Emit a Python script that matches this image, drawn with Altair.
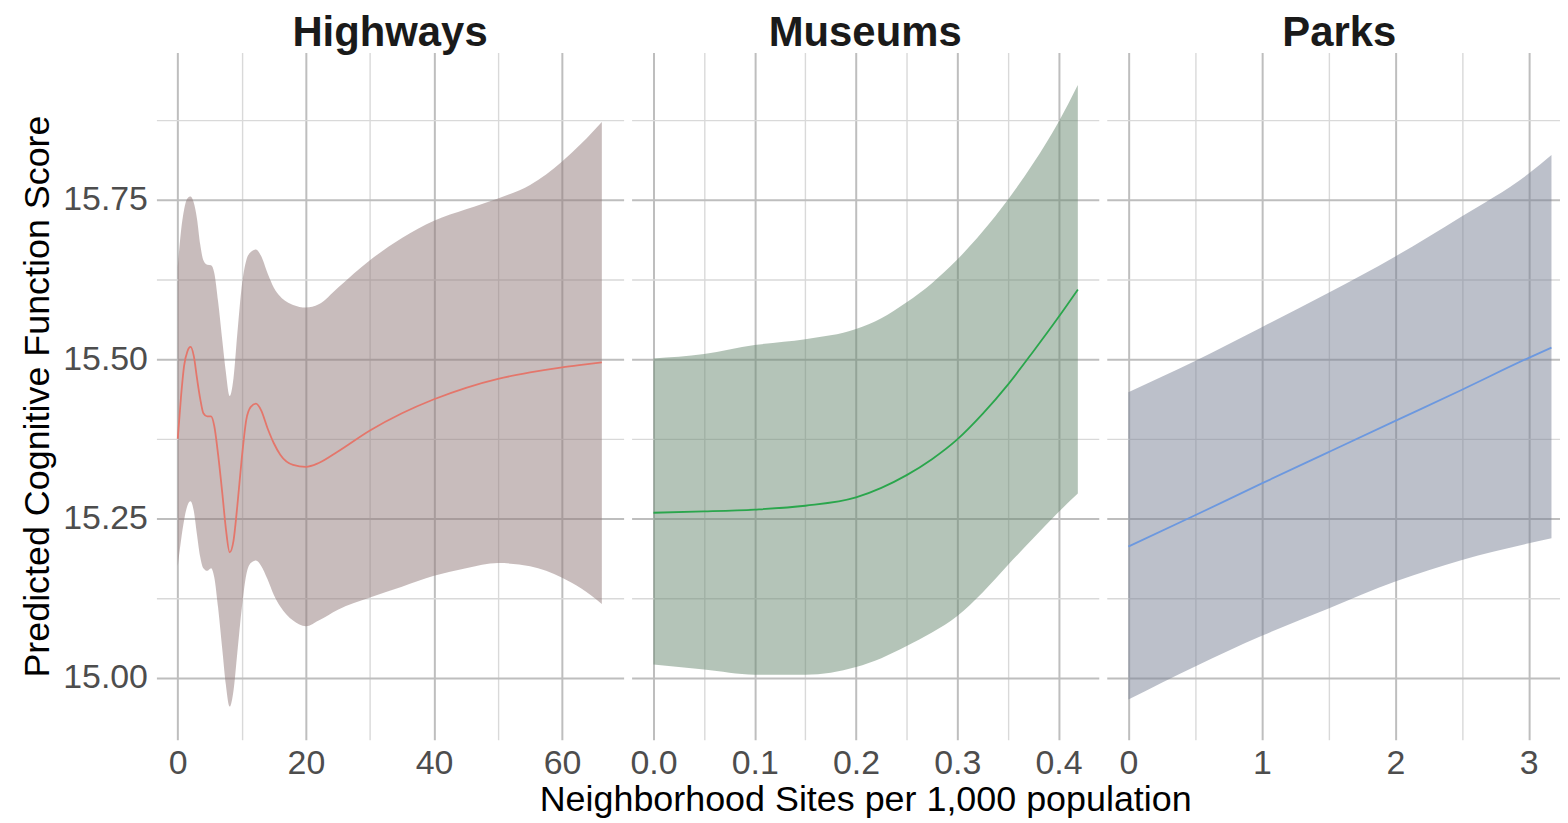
import altair as alt
import pandas as pd

# ---------------- data ----------------
hw_x = [0, 0.5, 1, 1.5, 2, 2.5, 3, 3.5, 4, 4.6, 5.2, 5.7, 6.3, 7, 7.5, 8.1, 8.7, 9.3,
        10, 10.7, 11.4, 12.2, 13, 14, 15, 16, 18, 20, 22, 25, 30, 35, 40, 45, 50, 55,
        60, 63, 66.2]
hw_fit = [15.375, 15.44, 15.49, 15.512, 15.519, 15.505, 15.47, 15.438, 15.415, 15.41,
          15.41, 15.395, 15.35, 15.285, 15.235, 15.197, 15.215, 15.27, 15.345, 15.405,
          15.425, 15.43, 15.42, 15.392, 15.368, 15.35, 15.334, 15.331, 15.337, 15.355,
          15.388, 15.415, 15.437, 15.455, 15.469, 15.479, 15.487, 15.491, 15.495]
hw_hi = [15.645, 15.70, 15.735, 15.752, 15.755, 15.745, 15.72, 15.68, 15.655, 15.648,
         15.647, 15.635, 15.59, 15.525, 15.48, 15.442, 15.47, 15.54, 15.615, 15.655,
         15.668, 15.672, 15.662, 15.635, 15.612, 15.598, 15.585, 15.581, 15.586, 15.612,
         15.655, 15.69, 15.717, 15.735, 15.752, 15.773, 15.81, 15.838, 15.872]
hw_lo = [15.175, 15.215, 15.248, 15.27, 15.277, 15.262, 15.225, 15.19, 15.172, 15.168,
         15.172, 15.158, 15.11, 15.04, 14.99, 14.955, 14.98, 15.04, 15.11, 15.162,
         15.18, 15.184, 15.176, 15.155, 15.13, 15.112, 15.09, 15.081, 15.09, 15.107,
         15.126, 15.143, 15.16, 15.172, 15.18, 15.175, 15.157, 15.14, 15.116]

mu_x = [0, 0.05, 0.1, 0.15, 0.2, 0.225, 0.25, 0.275, 0.3, 0.325, 0.35, 0.375, 0.4, 0.419]
mu_fit = [15.259, 15.261, 15.264, 15.270, 15.283, 15.298, 15.318, 15.343, 15.374,
          15.414, 15.460, 15.512, 15.566, 15.609]
mu_hi = [15.501, 15.508, 15.522, 15.531, 15.547, 15.564, 15.589, 15.619, 15.656,
         15.700, 15.750, 15.807, 15.872, 15.930]
mu_lo = [15.021, 15.013, 15.005, 15.005, 15.017, 15.031, 15.050, 15.071, 15.097,
         15.134, 15.177, 15.219, 15.260, 15.289]

pk_x = [0, 0.5, 1, 1.5, 2, 2.5, 3, 3.17]
pk_fit = [15.206, 15.255, 15.305, 15.354, 15.403, 15.452, 15.502, 15.518]
pk_hi = [15.448, 15.497, 15.550, 15.604, 15.661, 15.724, 15.791, 15.820]
pk_lo = [14.966, 15.018, 15.066, 15.109, 15.151, 15.185, 15.211, 15.219]

panel_titles = ["Highways", "Museums", "Parks"]
y_ticks = [15.0, 15.125, 15.25, 15.375, 15.5, 15.625, 15.75, 15.875]
hw_ticks = [0, 10, 20, 30, 40, 50, 60]
mu_ticks = [0, 0.05, 0.1, 0.15, 0.2, 0.25, 0.3, 0.35, 0.4]
pk_ticks = [0, 0.5, 1, 1.5, 2, 2.5, 3]

FONT = "Liberation Sans"
Y_DOMAIN = [14.903, 15.981]
PANEL_H = 690


def grid_props(test):
    return dict(
        grid=True,
        gridColor={"condition": {"test": test, "value": "#bebebe"}, "value": "#d9d9d9"},
        gridWidth={"condition": {"test": test, "value": 2}, "value": 1.4},
        ticks=False,
        domain=False,
    )


def panel(xs, fit, lo, hi, title, xdom, xticks, xtest, xfmt, width,
          line_color, band_color, first=False, xtitle=None, title_dx=0):
    df = pd.DataFrame({"x": xs, "fit": fit, "lo": lo, "hi": hi})
    ytest = "abs(datum.value*4 - round(datum.value*4)) < 0.001"
    if first:
        y_axis = alt.Axis(values=y_ticks,
                          labelExpr=f"({ytest}) ? format(datum.value, '.2f') : ''",
                          labelFontSize=34, labelColor="#4d4d4d", labelFont=FONT,
                          labelPadding=9,
                          title="Predicted Cognitive Function Score",
                          titleFontSize=36, titleFontWeight="normal", titleColor="#000000",
                          titleFont=FONT, titlePadding=6,
                          **grid_props(ytest))
    else:
        y_axis = alt.Axis(values=y_ticks, labels=False, title=None, minExtent=0,
                          maxExtent=0, **grid_props(ytest))
    x_kwargs = dict(values=xticks,
                    labelExpr=f"({xtest}) ? format(datum.value, '{xfmt}') : ''",
                    labelFontSize=34, labelColor="#4d4d4d", labelFont=FONT,
                    labelPadding=7, labelFlush=False, labelOverlap=False,
                    **grid_props(xtest))
    if xtitle:
        x_axis = alt.Axis(title=xtitle, titleFontSize=36, titleFontWeight="normal",
                          titleColor="#000000", titleFont=FONT, titlePadding=2,
                          **x_kwargs)
    else:
        x_axis = alt.Axis(title=None, **x_kwargs)

    xscale = alt.Scale(domain=xdom, nice=False, zero=False)
    yscale = alt.Scale(domain=Y_DOMAIN, nice=False, zero=False)
    base = alt.Chart(df)
    band = base.mark_area(color=band_color, opacity=0.5, interpolate="monotone").encode(
        x=alt.X("x:Q", scale=xscale, axis=x_axis),
        y=alt.Y("lo:Q", scale=yscale, axis=y_axis),
        y2="hi:Q",
    )
    line = base.mark_line(color=line_color, strokeWidth=1.8, interpolate="monotone").encode(
        x=alt.X("x:Q", scale=xscale),
        y=alt.Y("fit:Q", scale=yscale),
    )
    return alt.layer(band, line).properties(
        width=width, height=PANEL_H,
        title=alt.TitleParams(text=title, fontSize=42, fontWeight="bold", color="#1a1a1a",
                              font=FONT, anchor="middle", baseline="alphabetic",
                              offset=-36, dx=title_dx),
    )


p1 = panel(hw_x, hw_fit, hw_lo, hw_hi, panel_titles[0], [-3.33, 69.6], hw_ticks,
           "datum.value % 20 === 0", ".0f", 469, "#e4766b", "#917979", first=True)
p2 = panel(mu_x, mu_fit, mu_lo, mu_hi, panel_titles[1], [-0.0216, 0.4397], mu_ticks,
           "abs(datum.value*10 - round(datum.value*10)) < 0.001", ".1f", 469,
           "#2aa64c", "#698971", xtitle="Neighborhood Sites per 1,000 population")
p3 = panel(pk_x, pk_fit, pk_lo, pk_hi, panel_titles[2], [-0.162, 3.234], pk_ticks,
           "abs(datum.value - round(datum.value)) < 0.001", ".0f", 455,
           "#6c98df", "#798195", title_dx=6)

chart = alt.hconcat(p1, p2, p3, spacing=8, bounds="flush").resolve_scale(
    x="independent", y="independent"
).resolve_axis(x="independent", y="independent").properties(
    padding={"left": 11, "top": 3, "right": 0, "bottom": 0}
).configure(font=FONT).configure_view(strokeWidth=0)

chart.save("out.html", embed_options={"renderer": "svg", "actions": False})
